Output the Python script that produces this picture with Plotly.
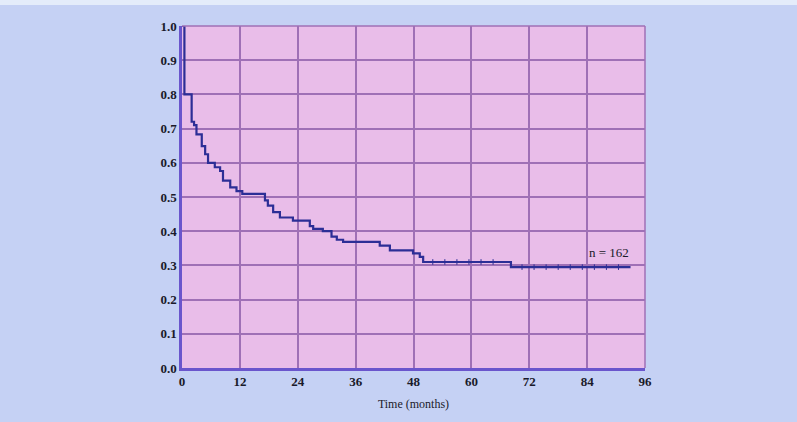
import plotly.graph_objects as go

# Kaplan-Meier step data (months, survival)
times = [0, 0.5, 2.0, 2.5, 3.0, 4.1, 4.8, 5.4, 6.8, 7.9, 8.5, 10.0, 11.3, 12.5,
         17.2, 17.8, 18.9, 20.3, 23.0, 26.5, 27.2, 29.2, 31.0, 32.1, 33.4,
         41.0, 43.1, 47.9, 49.3, 50.0, 68.2, 93.0]
surv = [1.0, 0.80, 0.72, 0.71, 0.683, 0.649, 0.625, 0.60, 0.587, 0.576, 0.548, 0.528, 0.517, 0.509,
        0.49, 0.475, 0.456, 0.44, 0.431, 0.415, 0.407, 0.40, 0.384, 0.375, 0.369,
        0.358, 0.344, 0.335, 0.325, 0.31, 0.295, 0.295]

censor_t = [52, 54.5, 57, 59.5, 62, 64.5, 70.5, 73, 75.5, 78, 80.5, 83, 85.5, 88, 90.5]
censor_s = [0.31] * 6 + [0.295] * 9

x_ticks = [0, 12, 24, 36, 48, 60, 72, 84, 96]
y_ticks = [0.0, 0.1, 0.2, 0.3, 0.4, 0.5, 0.6, 0.7, 0.8, 0.9, 1.0]

line_col = "#2c2e96"
fig = go.Figure()
fig.add_trace(go.Scatter(x=times, y=surv, mode="lines", line_shape="hv",
                         line=dict(color=line_col, width=2.2), showlegend=False,
                         hoverinfo="skip"))
fig.add_trace(go.Scatter(x=censor_t, y=censor_s, mode="markers",
                         marker=dict(symbol="line-ns-open", size=4, color=line_col,
                                     line=dict(color=line_col, width=1)),
                         showlegend=False, hoverinfo="skip"))

fig.add_annotation(x=93, y=0.31, text="n = 162", showarrow=False,
                   xanchor="right", yanchor="bottom",
                   font=dict(family="Liberation Serif", size=13, color="#1a1a2a"))

# light strip at top of the picture
fig.add_shape(type="rect", xref="paper", yref="paper", x0=-1, x1=2,
              y0=1 + 21 / 344, y1=1 + 27 / 344, fillcolor="#e4ecfa",
              line=dict(width=0), layer="below")

tickfont = dict(family="Liberation Serif", size=13, color="#1a1a2a", weight="bold")
fig.update_layout(
    width=797, height=422,
    margin=dict(l=182, r=152, t=26, b=52),
    paper_bgcolor="#c5d1f4",
    plot_bgcolor="#e9bde9",
    font=dict(family="Liberation Serif", color="#1a1a2a"),
    xaxis=dict(range=[0, 96], tickvals=x_ticks, ticktext=[str(v) for v in x_ticks],
               showgrid=True, gridcolor="#9f70b6", gridwidth=1.5,
               showline=True, linecolor="#6a55cc", linewidth=2.5,
               mirror=False, zeroline=False, ticks="", tickfont=tickfont,
               title=dict(text="Time (months)",
                          font=dict(family="Liberation Serif", size=12, color="#1a1a2a"),
                          standoff=12)),
    yaxis=dict(range=[0, 1.0], tickvals=y_ticks, ticktext=[f"{v:.1f}" for v in y_ticks],
               showgrid=True, gridcolor="#9f70b6", gridwidth=1.5,
               showline=True, linecolor="#6a55cc", linewidth=2.5,
               zeroline=False, ticks="", tickfont=tickfont),
)
# border lines at top/right as grid-colored
fig.add_shape(type="line", xref="paper", yref="paper", x0=1, x1=1, y0=0, y1=1,
              line=dict(color="#9f70b6", width=1.5))
fig.add_shape(type="line", xref="paper", yref="paper", x0=0, x1=1, y0=1, y1=1,
              line=dict(color="#9f70b6", width=1.5))

fig.write_html("out.html")
